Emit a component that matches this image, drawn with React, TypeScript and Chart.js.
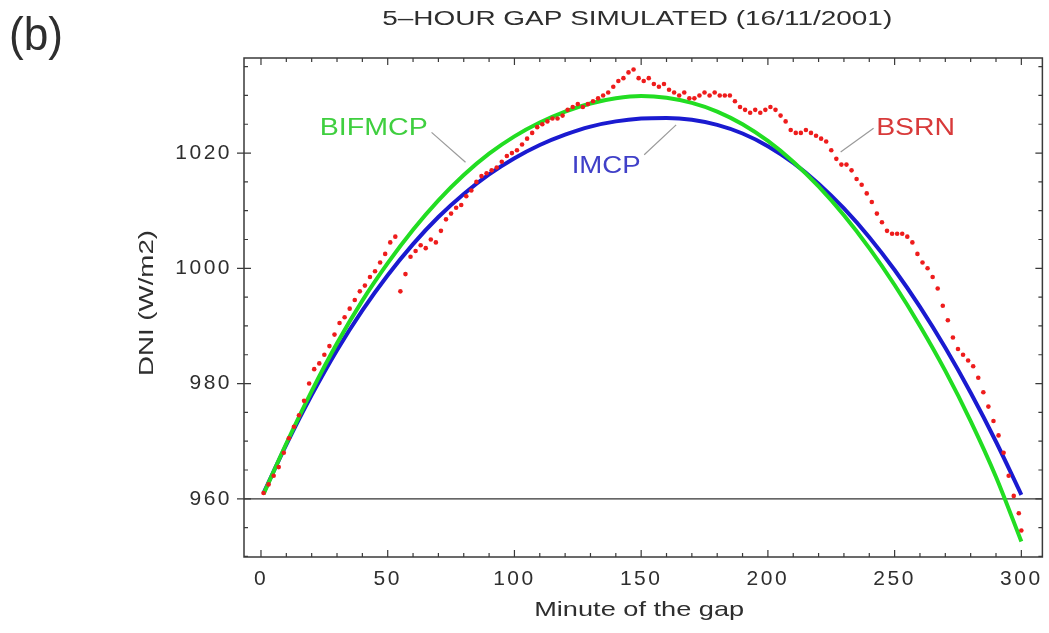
import React, { useEffect, useRef } from "react";
import { Chart, registerables } from "chart.js";

Chart.register(...registerables);

// ---------- data ----------
const xTickValues = [0, 50, 100, 150, 200, 250, 300];
const yTickValues = [960, 980, 1000, 1020];

const curveMinutes = [1, 10, 20, 30, 40, 50, 60, 70, 80, 90, 100, 110, 120, 130, 140, 150, 160, 170, 180, 190, 200, 210, 220, 230, 240, 250, 260, 270, 280, 290, 300];

const bifmcpValues = [960.8, 969.6, 978.7, 987.0, 994.4, 1000.9, 1006.7, 1011.8, 1016.2, 1019.9, 1022.9, 1025.3, 1027.2, 1028.6, 1029.5, 1029.9, 1029.6, 1028.7, 1027.2, 1025.0, 1022.1, 1018.5, 1014.2, 1009.2, 1003.5, 997.1, 990.0, 982.2, 973.5, 963.8, 952.6];

const imcpValues = [961.0, 969.4, 978.0, 985.8, 992.7, 998.8, 1004.2, 1008.9, 1012.9, 1016.3, 1019.1, 1021.4, 1023.2, 1024.6, 1025.5, 1026.0, 1026.1, 1025.8, 1024.9, 1023.4, 1021.2, 1018.3, 1014.7, 1010.4, 1005.4, 999.7, 993.3, 986.2, 978.4, 969.9, 960.7];

const bsrnMinutes = [1, 3, 5, 7, 9, 11, 13, 15, 17, 19, 21, 23, 25, 27, 29, 31, 33, 35, 37, 39, 41, 43, 45, 47, 49, 51, 53, 55, 57, 59, 61, 63, 65, 67, 69, 71, 73, 75, 77, 79, 81, 83, 85, 87, 89, 91, 93, 95, 97, 99, 101, 103, 105, 107, 109, 111, 113, 115, 117, 119, 121, 123, 125, 127, 129, 131, 133, 135, 137, 139, 141, 143, 145, 147, 149, 151, 153, 155, 157, 159, 161, 163, 165, 167, 169, 171, 173, 175, 177, 179, 181, 183, 185, 187, 189, 191, 193, 195, 197, 199, 201, 203, 205, 207, 209, 211, 213, 215, 217, 219, 221, 223, 225, 227, 229, 231, 233, 235, 237, 239, 241, 243, 245, 247, 249, 251, 253, 255, 257, 259, 261, 263, 265, 267, 269, 271, 273, 275, 277, 279, 281, 283, 285, 287, 289, 291, 293, 295, 297, 299, 300];

const bsrnValues = [961, 962.5, 964, 965.5, 968, 970.5, 972.5, 974.5, 977, 980, 982.5, 983.5, 985, 986.5, 988.5, 990.5, 991.5, 993, 994.5, 996, 997, 998.5, 999.5, 1001, 1002.5, 1004.5, 1005.5, 996, 999, 1002, 1003, 1004, 1003.5, 1005, 1004.5, 1006.5, 1008.5, 1009.5, 1010.5, 1011, 1012.5, 1013.5, 1015, 1016, 1016.5, 1017, 1017.5, 1018.5, 1019.5, 1020, 1020.5, 1021.5, 1022.5, 1023.5, 1024.5, 1025, 1025.5, 1026, 1026, 1026.5, 1027.5, 1028, 1028.5, 1028, 1028.5, 1029, 1029.5, 1030, 1030.5, 1031.5, 1032.5, 1033, 1034, 1034.5, 1033, 1032.5, 1033, 1032, 1031.5, 1032, 1031, 1030.5, 1030, 1030.5, 1029.5, 1029.5, 1030, 1030.5, 1030, 1030.5, 1030, 1030, 1030, 1029, 1028, 1027.5, 1027, 1027.5, 1027, 1027.5, 1028, 1027.5, 1026.5, 1025.5, 1024, 1023.5, 1023.5, 1024, 1023.5, 1023, 1022.5, 1022, 1020.5, 1019, 1018, 1018, 1017, 1015.5, 1014.5, 1013, 1011.5, 1009.5, 1008, 1006.5, 1006, 1006, 1006, 1005.5, 1004.5, 1002.5, 1001, 1000, 998.5, 996.5, 993.5, 991, 988, 986, 985, 984, 983, 981, 978.5, 976, 973.5, 971, 968, 964, 960.5, 957.5, 954.5];

// ---------- text / style ----------
const TITLE = "5\u2013HOUR GAP SIMULATED (16/11/2001)";
const PANEL = "(b)";
const X_TITLE = "Minute of the gap";
const Y_TITLE = "DNI (W/m2)";
const SANS = "'Liberation Sans', Arial, sans-serif";
const TEXT = "#2e2e2e";

const GREEN = "#22dd22";
const BLUE = "#1a1ad0";
const RED = "#ee1c1c";

// label annotations (data coordinates)
const annotations = [
  { text: "BIFMCP", x: 44.5, y: 1024.3, width: 108, color: "#3fcf3f", from: [67.3, 1023.6], to: [80.7, 1018.4] },
  { text: "IMCP", x: 136.2, y: 1017.6, width: 69, color: "#4040c8", from: [151.2, 1019.7], to: [163.8, 1024.9] },
  { text: "BSRN", x: 258.3, y: 1024.3, width: 79, color: "#d83a3a", from: [241.7, 1024.3], to: [228.7, 1020.2] },
];

function drawFit(
  ctx: CanvasRenderingContext2D,
  text: string,
  cx: number,
  cy: number,
  fontPx: number,
  targetW: number,
  color: string,
  rotate = 0
) {
  ctx.save();
  ctx.letterSpacing = "0px";
  ctx.font = `${fontPx}px ${SANS}`;
  const w = ctx.measureText(text).width;
  const sx = targetW / w;
  ctx.translate(cx, cy);
  if (rotate) ctx.rotate(rotate);
  ctx.scale(sx, 1);
  ctx.fillStyle = color;
  ctx.textAlign = "center";
  ctx.textBaseline = "middle";
  ctx.fillText(text, 0, 0);
  ctx.restore();
}

const framePlugin = {
  id: "framePlugin",
  beforeDraw(chart: any) {
    chart.ctx.letterSpacing = "2.5px";
  },
  beforeDatasetsDraw(chart: any) {
    const ctx = chart.ctx as CanvasRenderingContext2D;
    ctx.letterSpacing = "0px";
    const { left, right } = chart.chartArea;
    const y = chart.scales.y.getPixelForValue(960);
    ctx.save();
    ctx.strokeStyle = "#333";
    ctx.lineWidth = 1.3;
    ctx.beginPath();
    ctx.moveTo(left, y);
    ctx.lineTo(right, y);
    ctx.stroke();
    ctx.restore();
  },
  afterDatasetsDraw(chart: any) {
    const ctx = chart.ctx as CanvasRenderingContext2D;
    const { left, right, top, bottom } = chart.chartArea;
    const xs = chart.scales.x;
    const ys = chart.scales.y;
    ctx.save();
    ctx.strokeStyle = "#3a3a3a";
    ctx.lineWidth = 1.5;
    ctx.strokeRect(left, top, right - left, bottom - top);
    ctx.lineWidth = 1.2;
    ctx.beginPath();
    // x ticks every 10, major every 50
    for (let v = 0; v <= 300; v += 10) {
      const px = xs.getPixelForValue(v);
      const len = v % 50 === 0 ? 7 : 4;
      ctx.moveTo(px, bottom);
      ctx.lineTo(px, bottom - len);
      ctx.moveTo(px, top);
      ctx.lineTo(px, top + len);
    }
    // y ticks every 5, major every 20
    for (let v = 950; v <= 1035; v += 5) {
      const py = ys.getPixelForValue(v);
      const major = v % 20 === 0;
      const len = major ? 7 : 4;
      ctx.moveTo(left, py);
      ctx.lineTo(left + len, py);
      if (major) {
        ctx.moveTo(left, py);
        ctx.lineTo(left - 7, py);
      }
      ctx.moveTo(right, py);
      ctx.lineTo(right - len, py);
    }
    ctx.stroke();
    ctx.restore();

    // annotations
    ctx.save();
    for (const a of annotations) {
      ctx.strokeStyle = "#9a9a9a";
      ctx.lineWidth = 1.2;
      ctx.beginPath();
      ctx.moveTo(xs.getPixelForValue(a.from[0]), ys.getPixelForValue(a.from[1]));
      ctx.lineTo(xs.getPixelForValue(a.to[0]), ys.getPixelForValue(a.to[1]));
      ctx.stroke();
      drawFit(ctx, a.text, xs.getPixelForValue(a.x), ys.getPixelForValue(a.y), 23, a.width, a.color);
    }
    ctx.restore();
  },
  afterDraw(chart: any) {
    const ctx = chart.ctx as CanvasRenderingContext2D;
    const { left, right } = chart.chartArea;
    const cx = (left + right) / 2;
    drawFit(ctx, PANEL, 36, 37, 47, 54, TEXT);
    drawFit(ctx, TITLE, cx - 6, 19, 20, 510, TEXT);
    drawFit(ctx, X_TITLE, cx - 4, 610, 21, 210, TEXT);
    drawFit(ctx, Y_TITLE, 147, 303, 21, 146, TEXT, -Math.PI / 2);
  },
};

export default function App() {
  const ref = useRef<HTMLCanvasElement | null>(null);

  useEffect(() => {
    document.body.style.margin = "0";
    const canvas = ref.current;
    if (!canvas) return;

    const bsrn = bsrnMinutes.map((m, i) => ({ x: m, y: bsrnValues[i] }));
    const green = curveMinutes.map((m, i) => ({ x: m, y: bifmcpValues[i] }));
    const blue = curveMinutes.map((m, i) => ({ x: m, y: imcpValues[i] }));

    const chart = new Chart(canvas, {
      type: "line",
      data: {
        datasets: [
          {
            label: "BSRN",
            data: bsrn,
            showLine: false,
            pointRadius: 2.3,
            pointBorderWidth: 0,
            pointBackgroundColor: RED,
            borderColor: RED,
          },
          {
            label: "BIFMCP",
            data: green,
            borderColor: GREEN,
            borderWidth: 4,
            pointRadius: 0,
            cubicInterpolationMode: "monotone",
          },
          {
            label: "IMCP",
            data: blue,
            borderColor: BLUE,
            borderWidth: 4,
            pointRadius: 0,
            cubicInterpolationMode: "monotone",
          },
        ],
      },
      options: {
        responsive: false,
        animation: false,
        devicePixelRatio: 1,
        layout: { padding: { top: 58, right: 5, left: 0, bottom: 0 } },
        plugins: {
          legend: { display: false },
          title: { display: false },
          tooltip: { enabled: false },
        },
        scales: {
          x: {
            type: "linear",
            min: -6.7,
            max: 308.3,
            grid: { display: false, drawTicks: false, tickLength: 0 },
            border: { display: false },
            ticks: {
              autoSkip: false,
              maxRotation: 0,
              padding: 10,
              color: TEXT,
              font: { family: SANS, size: 21 },
              callback: (v: any) => String(v),
            },
            afterBuildTicks: (scale: any) => {
              scale.ticks = xTickValues.map((v) => ({ value: v }));
            },
            afterFit: (scale: any) => {
              scale.height = 76;
            },
          },
          y: {
            type: "linear",
            min: 949.9,
            max: 1036.5,
            grid: { display: false, drawTicks: false, tickLength: 0 },
            border: { display: false },
            ticks: {
              autoSkip: false,
              padding: 12,
              color: TEXT,
              font: { family: SANS, size: 21 },
              callback: (v: any) => String(v),
            },
            afterBuildTicks: (scale: any) => {
              scale.ticks = yTickValues.map((v) => ({ value: v }));
            },
            afterFit: (scale: any) => {
              scale.width = 244;
            },
          },
        },
      },
      plugins: [framePlugin],
    });

    return () => chart.destroy();
  }, []);

  return <canvas ref={ref} width={1049} height={633} style={{ display: "block" }} />;
}
